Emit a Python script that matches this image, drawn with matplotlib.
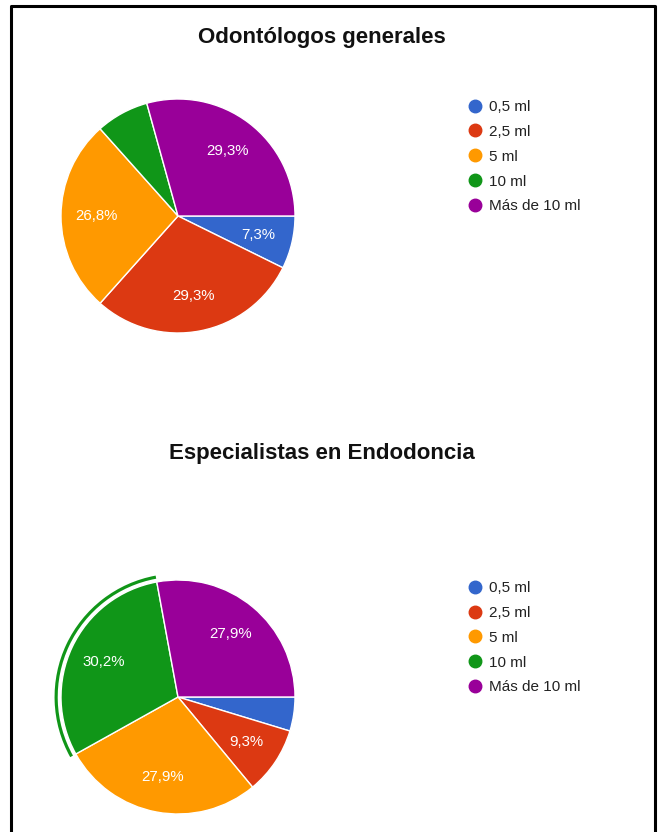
import numpy as np
import matplotlib.pyplot as plt
from matplotlib.lines import Line2D
from matplotlib.patches import Wedge

# Datos (porcentajes)
categorias = ['0,5 ml', '2,5 ml', '5 ml', '10 ml', 'Más de 10 ml']
colores = ['#3366cc', '#dc3912', '#ff9900', '#109618', '#990099']

generales = [7.3, 29.3, 26.8, 7.3, 29.3]
especialistas = [4.7, 9.3, 27.9, 30.2, 27.9]

titulos = ['Odontólogos generales', 'Especialistas en Endodoncia']
sin_etiqueta = [[3], [0]]     # porciones sin texto en cada pie
resaltada = [None, 3]         # porcion con el arco de seleccion

W, H = 661, 832
R = 117  # radio del pie en px

plt.rcParams['font.family'] = ['Liberation Sans', 'DejaVu Sans']
fig = plt.figure(figsize=(W / 100, H / 100), dpi=100)


def ejes_pie(cx, cy):
    # ejes cuadrados con limites -1.3..1.3 centrados en (cx, cy) px desde arriba
    lado = 2.6 * R
    return fig.add_axes([(cx - lado / 2) / W, (H - cy - lado / 2) / H, lado / W, lado / H])


def dibujar(ax, valores, quitar, sel, titulo, y_titulo, y_leyenda):
    wedges, _ = ax.pie(valores, colors=colores, startangle=0, counterclock=False,
                       wedgeprops=dict(edgecolor='white', linewidth=1))
    ax.set_xlim(-1.3, 1.3)
    ax.set_ylim(-1.3, 1.3)
    ax.set_aspect('equal')
    for i, w in enumerate(wedges):
        if i in quitar:
            continue
        ang = np.deg2rad((w.theta1 + w.theta2) / 2)
        ax.text(0.7 * np.cos(ang), 0.7 * np.sin(ang), ('%.1f%%' % valores[i]).replace('.', ','),
                ha='center', va='center', color='white', fontsize=10.8)
    if sel is not None:
        w = wedges[sel]
        ax.add_patch(Wedge((0, 0), 1.055, w.theta1, w.theta2, width=0.027,
                           facecolor=colores[sel], edgecolor='none'))
    fig.text(322 / W, 1 - y_titulo / H, titulo, ha='center', va='center',
             fontsize=16, fontweight='bold', color='#111111')
    handles = [Line2D([], [], marker='o', linestyle='', markersize=9, color=c) for c in colores]
    fig.legend(handles, categorias, loc='upper left', bbox_to_anchor=(468 / W, 1 - y_leyenda / H),
               frameon=False, fontsize=11, labelspacing=0.71, handlelength=0.9,
               handletextpad=0.5, borderpad=0, borderaxespad=0, labelcolor='#222222')


dibujar(ejes_pie(178, 216), generales, sin_etiqueta[0], resaltada[0], titulos[0], 38, 100)
dibujar(ejes_pie(178, 697), especialistas, sin_etiqueta[1], resaltada[1], titulos[1], 454, 581)

# marco negro (abierto abajo)
fig.add_artist(Line2D([11 / W, 11 / W, 655 / W, 655 / W], [0, 1 - 6 / H, 1 - 6 / H, 0],
                      transform=fig.transFigure, color='black', linewidth=2.2))

fig.savefig('out.png', dpi=100)
